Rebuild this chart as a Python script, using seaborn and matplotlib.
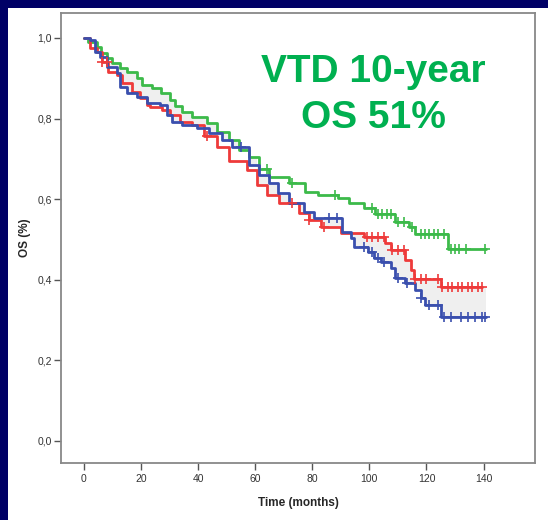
import numpy as np
import matplotlib
matplotlib.use('Agg')
import matplotlib.pyplot as plt
import seaborn as sns
from matplotlib.patches import Rectangle
from matplotlib.ticker import FuncFormatter

# step curves: (time in months, survival)
green_t = [0, 1.5, 4.5, 6, 8, 10, 12.5, 15, 18.5, 20.5, 24, 27, 30, 32, 34.5, 38, 43, 46.5,
           51, 54.5, 58, 61.5, 65, 72, 77.5, 82, 89, 93, 98, 102, 109, 114, 116, 127.5, 141]
green_s = [1.0, 0.99, 0.978, 0.963, 0.95, 0.938, 0.926, 0.916, 0.901, 0.883, 0.876, 0.864, 0.846,
           0.83, 0.816, 0.804, 0.789, 0.767, 0.747, 0.722, 0.705, 0.675, 0.655, 0.640, 0.618, 0.610,
           0.603, 0.591, 0.578, 0.563, 0.543, 0.531, 0.514, 0.476, 0.476]
green_cens = [64, 73, 88, 101, 103, 104.5, 106, 107.5, 110, 112, 115, 118, 119.5, 121, 122.5, 124,
              126, 128.5, 130, 131.5, 134, 140.5]

red_t = [0, 2, 4.5, 6.5, 8.5, 11.5, 13.5, 17, 19.5, 22, 23, 27.5, 30, 33.5, 38, 42, 46.5, 51, 57,
         60.5, 64, 68.5, 75.5, 79, 83, 90, 98, 105.5, 107.5, 112.5, 114.5, 115.5, 125, 139.6]
red_s = [1.0, 0.975, 0.965, 0.94, 0.916, 0.908, 0.888, 0.866, 0.851, 0.834, 0.829, 0.821, 0.809,
         0.792, 0.784, 0.757, 0.73, 0.695, 0.672, 0.635, 0.610, 0.591, 0.566, 0.548, 0.531, 0.516,
         0.506, 0.491, 0.474, 0.449, 0.424, 0.402, 0.382, 0.382]
red_cens = [6.5, 8, 43, 73, 79, 84, 99, 101, 103, 105, 108, 110, 112, 116, 118, 120, 124, 125.6,
            127.4, 129.1, 130.9, 132.6, 134.4, 136.1, 137.9, 139.6]

blue_t = [0, 2, 4, 5.5, 8, 11.5, 12.5, 15, 18.5, 22, 26.5, 29, 31, 34.5, 39.5, 44, 48.5, 52,
          58, 61.5, 65, 68, 72, 77, 80.5, 90.5, 93.5, 94.5, 99.5, 101.5, 104, 107.5, 109, 112.5,
          116, 118, 119.5, 125, 140.7]
blue_s = [1.0, 0.995, 0.965, 0.953, 0.928, 0.913, 0.878, 0.864, 0.854, 0.839, 0.834, 0.809, 0.792,
          0.784, 0.777, 0.764, 0.747, 0.730, 0.685, 0.660, 0.640, 0.615, 0.591, 0.568, 0.553,
          0.519, 0.504, 0.481, 0.469, 0.454, 0.444, 0.429, 0.404, 0.392, 0.375, 0.355, 0.337,
          0.308, 0.308]
blue_cens = [55, 86, 88.5, 98, 101, 103, 105, 110, 113, 118, 121, 124, 126, 128.5, 132, 134.5,
             137, 139.6, 140.5]

x_ticks = [0, 20, 40, 60, 80, 100, 120, 140]
y_ticks = [0.0, 0.2, 0.4, 0.6, 0.8, 1.0]

GREEN = '#3cba4a'
RED = '#ee3a3a'
BLUE = '#3a4fae'


def step_at(times, surv, t):
    idx = np.searchsorted(np.asarray(times), np.asarray(t), side='right') - 1
    return np.asarray(surv)[np.clip(idx, 0, len(surv) - 1)]


sns.set_style('white')
plt.rcParams['font.family'] = ['Liberation Sans', 'DejaVu Sans']

fig = plt.figure(figsize=(5.48, 5.20), dpi=100, facecolor='#000066')
fig.patches.append(Rectangle((8 / 548, 0), 1, 1 - 8 / 520, transform=fig.transFigure,
                             facecolor='white', edgecolor='none', zorder=-1))
ax = fig.add_axes([61 / 548, 57 / 520, 474 / 548, 450 / 520])
ax.set_zorder(2)
ax.set_facecolor('white')

# grey shaded band between curves
grid = np.unique(np.concatenate([green_t, red_t, blue_t]))
bv = step_at(blue_t, blue_s, grid)
gv = step_at(green_t, green_s, grid)
rv = step_at(red_t, red_s, grid)
other = np.where(grid < 59, gv, rv)
ax.fill_between(grid, bv, other, step='post', color='#efefef', lw=0, zorder=1)

for t, s, c, cens in [(green_t, green_s, GREEN, green_cens),
                      (red_t, red_s, RED, red_cens),
                      (blue_t, blue_s, BLUE, blue_cens)]:
    sns.lineplot(x=t, y=s, drawstyle='steps-post', color=c, lw=2, ax=ax, zorder=3)
    sns.scatterplot(x=cens, y=step_at(t, s, cens), marker='+', s=45, color=c,
                    linewidth=1.2, ax=ax, zorder=4)

ax.set_xlim(-8, 158)
ax.set_ylim(-0.055, 1.062)
ax.set_xticks(x_ticks)
ax.set_yticks(y_ticks)
ax.yaxis.set_major_formatter(FuncFormatter(lambda v, p: f'{v:.1f}'.replace('.', ',')))
ax.tick_params(axis='both', direction='out', length=5, width=1, color='#555555',
               labelsize=7.5, labelcolor='#333333', bottom=True, left=True, pad=1.5)
ax.tick_params(axis='x', pad=3)
for sp in ax.spines.values():
    sp.set_color('#888888')
    sp.set_linewidth(1.3)

ax.set_xlabel('Time (months)', fontsize=8.5, fontweight='bold', labelpad=9)
ax.set_ylabel('OS (%)', fontsize=8.5, fontweight='bold', labelpad=5)

fig.text(373 / 548, 1 - 82 / 520, 'VTD 10-year', color='#00b050', fontsize=28,
         fontweight='bold', ha='center', va='baseline', zorder=5)
fig.text(373 / 548, 1 - 128 / 520, 'OS 51%', color='#00b050', fontsize=28,
         fontweight='bold', ha='center', va='baseline', zorder=5)

fig.savefig('out.png', dpi=100, facecolor=fig.get_facecolor())
